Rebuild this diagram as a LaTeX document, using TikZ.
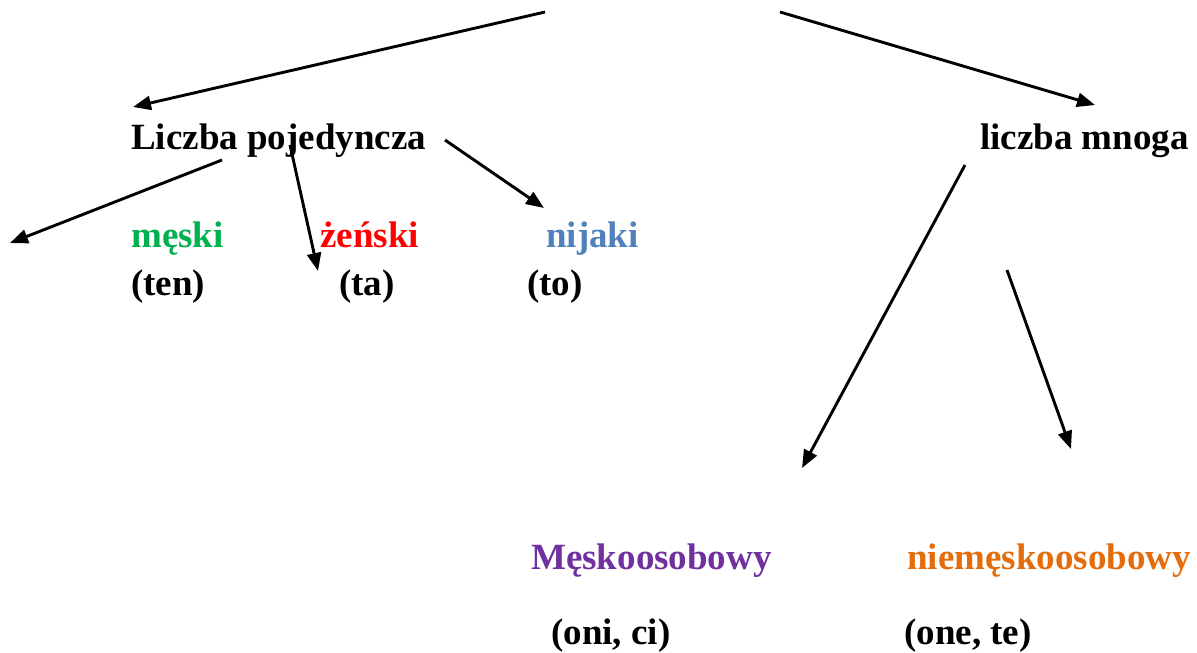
\documentclass[tikz,border=0pt]{standalone}
\usepackage{fontspec}
\setmainfont{Liberation Serif}
\usetikzlibrary{arrows.meta}
\definecolor{cgreen}{HTML}{00B050}
\definecolor{cred}{HTML}{FF0000}
\definecolor{cblue}{HTML}{4F81BD}
\definecolor{cpurple}{HTML}{7030A0}
\definecolor{corange}{HTML}{E46C0A}
\begin{document}
\begin{tikzpicture}[x=1pt,y=-1pt,
  lbl/.style={inner sep=0pt,anchor=base west,font=\fontsize{37}{44}\selectfont\bfseries},
  arr/.style={line width=2.9pt,-{Triangle[length=18pt,width=14pt]}}]
\useasboundingbox (0,0) rectangle (1197,653);
% labels
\node[lbl] (lp) at (131,149) {Liczba pojedyncza};
\node[lbl] (lm) at (980,149) {liczba mnoga};
\node[lbl,text=cgreen] (mes) at (131,247) {męski};
\node[lbl,text=cred] (zen) at (320,247) {żeński};
\node[lbl,text=cblue] (nij) at (546,247) {nijaki};
\node[lbl] (ten) at (131,295) {(ten)};
\node[lbl] (ta) at (339,295) {(ta)};
\node[lbl] (to) at (527,295) {(to)};
\node[lbl,text=cpurple] (mo) at (531,569) {Męskoosobowy};
\node[lbl,text=corange] (nmo) at (907,569) {niemęskoosobowy};
\node[lbl] (onici) at (551,644) {(oni, ci)};
\node[lbl] (onete) at (904,644) {(one, te)};
% arrow end points
\coordinate (t1) at (545,12);
\coordinate (t2) at (780,12);
\coordinate (e1) at (133,107);
\coordinate (e2) at (1095,105);
\coordinate (s3) at (222,160);
\coordinate (e3) at (10,243);
\coordinate (s4) at (290,145);
\coordinate (e4) at (318,271);
\coordinate (s5) at (445,140);
\coordinate (e5) at (544,208);
\coordinate (s6) at (965,165);
\coordinate (e6) at (802,468);
\coordinate (s7) at (1007,270);
\coordinate (e7) at (1071,449);
% arrows
\draw[arr] (t1) -- (e1);
\draw[arr] (t2) -- (e2);
\draw[arr] (s3) -- (e3);
\draw[arr] (s4) -- (e4);
\draw[arr] (s5) -- (e5);
\draw[arr] (s6) -- (e6);
\draw[arr] (s7) -- (e7);
\end{tikzpicture}
\end{document}
